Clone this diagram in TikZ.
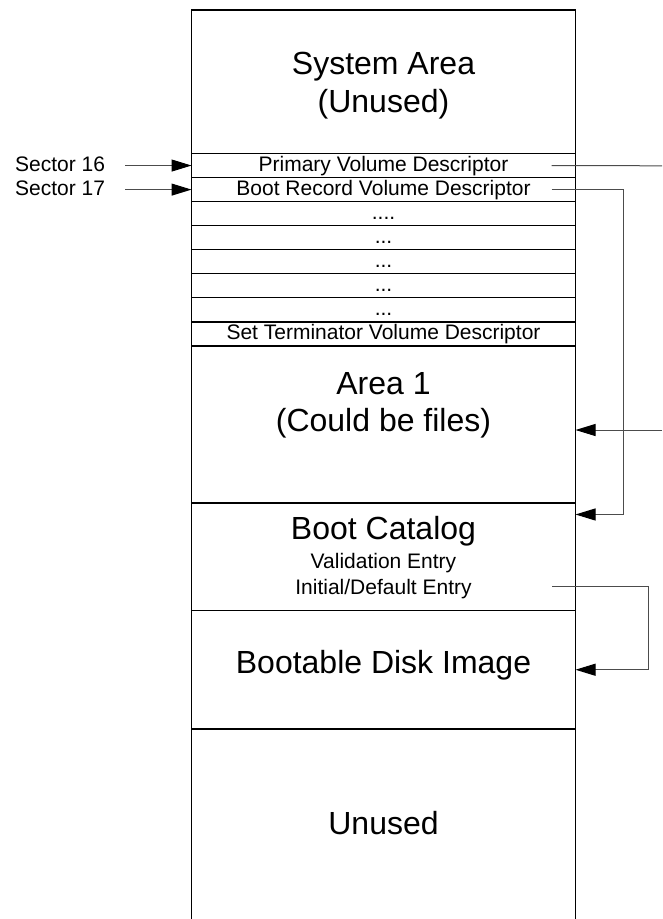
\documentclass[tikz,border=0pt]{standalone}
\usepackage{fontspec}
\setmainfont{Liberation Sans}
\usetikzlibrary{positioning}
\usetikzlibrary{arrows.meta}
\newcommand{\bigtext}{\fontsize{32}{38}\selectfont}
\newcommand{\smalltext}{\fontsize{21}{25}\selectfont}
\newcommand{\threedots}{...}
\newcommand{\fourdots}{....}
\tikzset{
  region/.style={draw=black,line width=1.2pt,minimum width=384pt,inner sep=0pt,outer sep=0pt},
  descrow/.style={region,minimum height=24.06pt,font=\smalltext,text height=15.5pt,text depth=3.5pt},
  biglabel/.style={anchor=base,inner sep=0pt,font=\bigtext},
  smalllabel/.style={anchor=base,inner sep=0pt,font=\smalltext},
  sectorlabel/.style={inner sep=0pt,outer sep=0pt,font=\smalltext,text height=15.5pt,text depth=3.5pt},
  conn/.style={draw=black!70,line width=1pt},
}

\begin{document}
\begin{tikzpicture}[x=1pt,y=-1pt,>={Triangle[length=20pt,width=12pt,color=black]}]
  \useasboundingbox (0,0) rectangle (662,919);

  % the disc layout, top to bottom
  \node[region,minimum height=143.5pt,anchor=north west,alias=row0] (sysarea) at (191.5,10) {};
  \foreach \txt [count=\i, remember=\i as \prev (initially 0)] in
    {Primary Volume Descriptor, Boot Record Volume Descriptor, \fourdots,
     \threedots, \threedots, \threedots, \threedots, Set Terminator Volume Descriptor}
    \node[descrow,below=0pt of row\prev] (row\i) {\txt};
  \node[region,minimum height=157pt,below=0pt of row8] (area1) {};
  \node[region,minimum height=107.5pt,below=0pt of area1] (bootcat) {};
  \node[region,minimum height=118.5pt,below=0pt of bootcat] (bootimg) {};
  \node[region,minimum height=200pt,below=0pt of bootimg] (unused) {};

  % texts
  \node[biglabel] (systxt) at ([yshift=-64pt]sysarea.north) {System Area};
  \node[biglabel] (sysnote) at ([yshift=-102.5pt]sysarea.north) {(Unused)};
  \node[biglabel] (areatxt) at ([yshift=-49pt]area1.north) {Area 1};
  \node[biglabel] (areanote) at ([yshift=-85.7pt]area1.north) {(Could be files)};
  \node[biglabel] (cattxt) at ([yshift=-37pt]bootcat.north) {Boot Catalog};
  \node[smalllabel] (validtxt) at ([yshift=-65.5pt]bootcat.north) {Validation Entry};
  \node[smalllabel] (defaulttxt) at ([yshift=-92pt]bootcat.north) {Initial/Default Entry};
  \node[biglabel] (imgtxt) at ([yshift=-62.8pt]bootimg.north) {Bootable Disk Image};
  \node[biglabel] (unusedtxt) at ([yshift=-106pt]unused.north) {Unused};

  % sector pointers
  \node[sectorlabel,left=86.5pt of row1] (sec16) {Sector 16};
  \node[sectorlabel,left=86.5pt of row2] (sec17) {Sector 17};
  \draw[conn,->,shorten <=20pt] (sec16) -- (row1);
  \draw[conn,->,shorten <=20pt] (sec17) -- (row2);

  % links on the right
  \coordinate (pvdout) at (662,165.8);
  \coordinate (filesin) at (662,430);
  \draw[conn] ([xshift=-24pt]row1.east) -- (pvdout);
  \draw[conn,->] (filesin) -- (filesin -| area1.east);
  \draw[conn,->] ([xshift=-24pt]row2.east) -| ([xshift=48pt,yshift=-11.5pt]bootcat.north east)
    -- ([yshift=-11.5pt]bootcat.north east);
  \draw[conn,->] ([xshift=-23.5pt,yshift=-30pt]bootcat.east) -| ([xshift=72.8pt]bootimg.east)
    -- (bootimg.east);
\end{tikzpicture}
\end{document}
